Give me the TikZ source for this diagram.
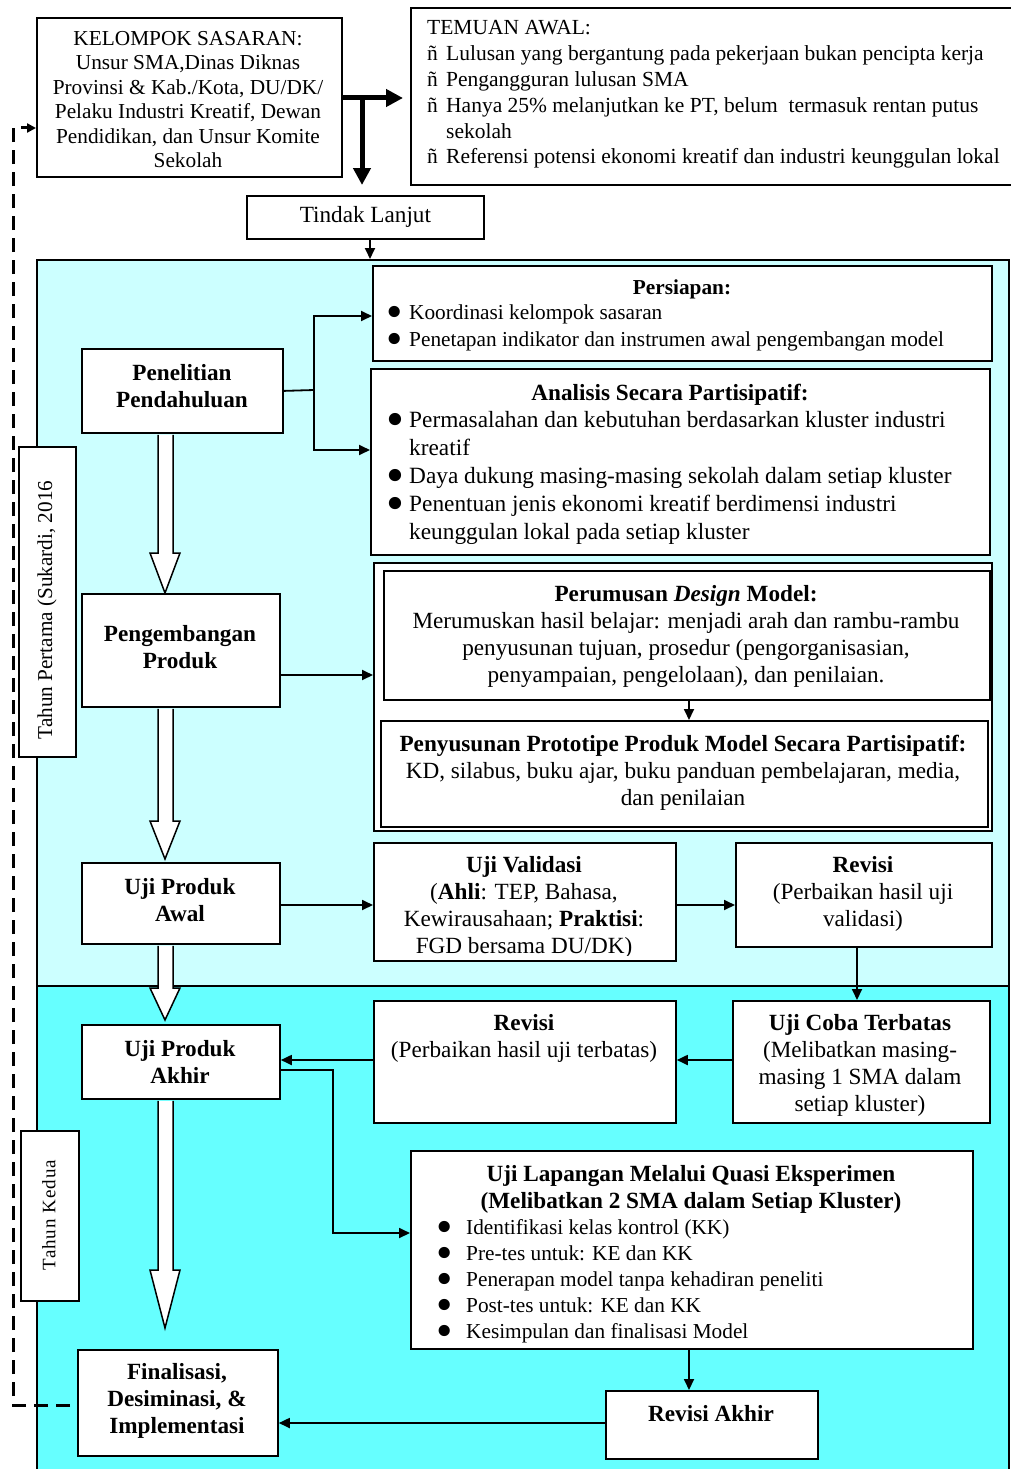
\documentclass[tikz,border=0pt]{standalone}
\usepackage{fontspec}
\setmainfont{Liberation Serif}
\usetikzlibrary{arrows.meta,calc}
\newcommand\fsS{\fontsize{21.3}{26}\selectfont}
\newcommand\fsL{\fontsize{23.2}{27}\selectfont}
\newcommand\bul{\smash{\raisebox{-0.4em}{\scalebox{2.2}{\textbullet}}}}
\newcommand\bitem[1]{\makebox[#1pt][l]{\hspace*{-4pt}\rlap{\bul}}}
\definecolor{cyanA}{RGB}{204,255,255}
\definecolor{cyanB}{RGB}{102,255,255}
\newcommand\mkbox[6][]{\node[box,#1,minimum width={#5-#3},minimum height={#6-#4}] (#2) at (#3,#4) {};}
\newcommand\holarr[4]{%
 \draw[hollow] ($(#1.south -| 158,0)+(0,1)$) -- ($(#2.north -| 158,0)+(0,-#3-#4)$) -- ($(#2.north -| 150,0)+(0,-#3-#4)$) -- ($(#2.north -| 165,0)+(0,-#3)$) -- ($(#2.north -| 180,0)+(0,-#3-#4)$) -- ($(#2.north -| 173,0)+(0,-#3-#4)$) -- ($(#1.south -| 173,0)+(0,1)$);}
\begin{document}
\begin{tikzpicture}[x=1pt,y=-1pt,
  box/.style={draw=black,line width=1.8pt,fill=white,inner sep=0pt,anchor=north west},
  txt/.style={inner sep=0pt,anchor=base,align=center},
  ltxt/.style={inner sep=0pt,anchor=base west,align=left},
  conn/.style={line width=1.8pt,-{Triangle[length=11pt,width=10pt]}},
  bigconn/.style={line width=5pt,-{Triangle[length=17pt,width=17pt]}},
  hollow/.style={draw=black,line width=1.5pt,fill=white,line join=miter},
  dashconn/.style={line width=3pt,dash pattern=on 14pt off 8pt,-{Triangle[length=9pt,width=9pt]}}]
\useasboundingbox (0,0) rectangle (1010,1469);
% regions
\mkbox[fill=cyanA]{reg1}{36}{259}{1008}{985}
\mkbox[fill=cyanB]{reg2}{36}{985}{1008}{1490}
% year labels
\mkbox{tp}{18}{446}{75}{756}
\node[inner sep=0pt,rotate=90,font=\fontsize{21.2}{26}\selectfont] (tpt) at (47,610) {Tahun Pertama (Sukardi, 2016};
\mkbox{tk}{20}{1130}{78}{1300}
\node[inner sep=0pt,rotate=90,font=\fontsize{19}{22}\selectfont\addfontfeature{LetterSpace=5}] (tkt) at (49,1215) {Tahun Kedua};
% left column boxes
\mkbox{pp}{81}{348}{282}{432}
\mkbox{pg}{81}{593}{279}{706}
\mkbox{upa}{81}{862}{279}{943}
\mkbox{upk}{81}{1024}{279}{1098}
\mkbox{fin}{77}{1349}{277}{1455}
% hollow block arrows
\holarr{pp}{pg}{0}{40}
\holarr{pg}{upa}{3}{38}
\holarr{upa}{upk}{4}{32}
\holarr{upk}{fin}{21}{58}
% other boxes
\mkbox{ks}{36}{17}{341}{176}
\mkbox{tm}{410}{7}{1020}{184}
\mkbox{tl}{246}{195}{483}{238}
\mkbox{ps}{372}{265}{991}{360}
\mkbox{an}{370}{368}{989}{554}
\mkbox{do}{373}{562}{991}{830}
\mkbox{per}{383}{570}{989}{699}
\mkbox{pen}{380}{720}{987}{826}
\mkbox{uv}{373}{842}{675}{960}
\mkbox{rv1}{735}{842}{991}{946}
\mkbox{rv2}{373}{1000}{675}{1122}
\mkbox{uc}{732}{1000}{989}{1122}
\mkbox{ul}{410}{1150}{972}{1348}
\mkbox{ra}{605}{1390}{817}{1458}
% texts (anchor base = baseline of last line)
\begin{scope}
\clip (36,17) rectangle (341,168);
\node[txt,font=\fontsize{21.3}{24.5}\selectfont] (kst) at (188,167.5) {KELOMPOK SASARAN:\\Unsur SMA,Dinas Diknas\\Provinsi \& Kab./Kota, DU/DK/\\Pelaku Industri Kreatif, Dewan\\Pendidikan, dan Unsur Komite\\Sekolah};
\end{scope}
\node[ltxt,font=\fontsize{21.5}{25.8}\selectfont] (tmt) at (427,164) {TEMUAN AWAL:\\\makebox[19pt][l]{ñ}Lulusan yang bergantung pada pekerjaan bukan pencipta kerja\\\makebox[19pt][l]{ñ}Pengangguran lulusan SMA\\\makebox[19pt][l]{ñ}Hanya 25\% melanjutkan ke PT, belum\ \ termasuk rentan putus\\\hspace*{19pt}sekolah\\\makebox[19pt][l]{ñ}Referensi potensi ekonomi kreatif dan industri keunggulan lokal};
\node[inner sep=0pt,font=\fsL] (tlt) at (tl.center) {Tindak Lanjut};
\node[txt,font=\fsS\bfseries] (pst) at (682,294) {Persiapan:};
\node[ltxt,font=\fontsize{21.3}{27}\selectfont] (psb) at (390,346) {\bitem{19}Koordinasi kelompok sasaran\\\bitem{19}Penetapan indikator dan instrumen awal pengembangan model};
\node[txt,font=\fsL\bfseries] (ant) at (670,400) {Analisis Secara Partisipatif:};
\node[ltxt,font=\fontsize{23.3}{28}\selectfont] (anb) at (390,539) {\bitem{19}Permasalahan dan kebutuhan berdasarkan kluster industri\\\hspace*{19pt}kreatif\\\bitem{19}Daya dukung masing-masing sekolah dalam setiap kluster\\\bitem{19}Penentuan jenis ekonomi kreatif berdimensi industri\\\hspace*{19pt}keunggulan lokal pada setiap kluster};
\node[txt,font=\fsL] (pert) at (686,682) {\textbf{Perumusan \textit{Design} Model:}\\Merumuskan hasil belajar: menjadi arah dan rambu-rambu\\penyusunan tujuan, prosedur (pengorganisasian,\\penyampaian, pengelolaan), dan penilaian.};
\node[txt,font=\fsL] (pent) at (683,805) {\textbf{Penyusunan Prototipe Produk Model Secara Partisipatif:}\\KD, silabus, buku ajar, buku panduan pembelajaran, media,\\dan penilaian};
\node[txt,font=\fsL\bfseries] (ppt) at (182,407) {Penelitian\\Pendahuluan};
\node[txt,font=\fsL\bfseries] (pgt) at (180,668) {Pengembangan\\Produk};
\node[txt,font=\fsL\bfseries] (upat) at (180,921) {Uji Produk\\Awal};
\node[txt,font=\fsL\bfseries] (upkt) at (180,1083) {Uji Produk\\Akhir};
\node[txt,font=\fsL\bfseries] (fint) at (177,1433) {Finalisasi,\\Desiminasi, \&\\Implementasi};
\begin{scope}
\clip (373,842) rectangle (675,955);
\node[txt,font=\fsL] (uvt) at (524,953) {\textbf{Uji Validasi}\\(\textbf{Ahli}: TEP, Bahasa,\\Kewirausahaan; \textbf{Praktisi}:\\FGD bersama DU/DK)};
\end{scope}
\node[txt,font=\fsL] (rv1t) at (863,926) {\textbf{Revisi}\\(Perbaikan hasil uji\\validasi)};
\node[txt,font=\fsL] (rv2t) at (524,1057) {\textbf{Revisi}\\(Perbaikan hasil uji terbatas)};
\node[txt,font=\fsL] (uct) at (860,1111) {\textbf{Uji Coba Terbatas}\\(Melibatkan masing-\\masing 1 SMA dalam\\setiap kluster)};
\node[txt,font=\fsL\bfseries] (ult) at (691,1208) {Uji Lapangan Melalui Quasi Eksperimen\\(Melibatkan 2 SMA dalam Setiap Kluster)};
\node[ltxt,font=\fontsize{21.3}{26}\selectfont] (ulb) at (440,1338) {\bitem{26}Identifikasi kelas kontrol (KK)\\\bitem{26}Pre-tes untuk: KE dan KK\\\bitem{26}Penerapan model tanpa kehadiran peneliti\\\bitem{26}Post-tes untuk: KE dan KK\\\bitem{26}Kesimpulan dan finalisasi Model};
\node[txt,font=\fsL\bfseries] (rat) at (711,1421) {Revisi Akhir};
% top connectors
\draw[line width=5pt] (ks.east |- 0,98) -- (362,98);
\draw[bigconn,shorten >=7pt] (362,98) -- (tm.west |- 0,98);
\draw[bigconn,shorten >=10pt] (362,96) -- (tl.north -| 362,0);
\draw[conn] (tl.south -| 370,0) -- (reg1.north -| 370,0);
% connectors
\draw[line width=1.8pt] (pp.east) -- (314,390);
\draw[conn] (314,390) |- (ps.west |- 0,316);
\draw[conn] (314,390) |- (an.west |- 0,450);
\draw[conn] (pg.east |- 0,675) -- (do.west |- 0,675);
\draw[conn] (per.south -| 689,0) -- (pen.north -| 689,0);
\draw[conn] (upa.east |- 0,905) -- (uv.west |- 0,905);
\draw[conn] (uv.east |- 0,905) -- (rv1.west |- 0,905);
\draw[conn] (rv1.south -| 857,0) -- (uc.north -| 857,0);
\draw[conn] (uc.west |- 0,1060) -- (rv2.east |- 0,1060);
\draw[conn] (rv2.west |- 0,1060) -- (upk.east |- 0,1060);
\draw[conn] (upk.east |- 0,1070) -- (333,1070) -- (333,1233) -- (ul.west |- 0,1233);
\draw[conn] (ul.south -| 689,0) -- (ra.north -| 689,0);
\draw[conn] (ra.west |- 0,1423) -- (fin.east |- 0,1423);
% dashed feedback
\coordinate (dend) at (70,1405);
\draw[dashconn] (dend) -- (13,1405) -- (13,128) -- (ks.west |- 0,128);
\end{tikzpicture}
\end{document}
